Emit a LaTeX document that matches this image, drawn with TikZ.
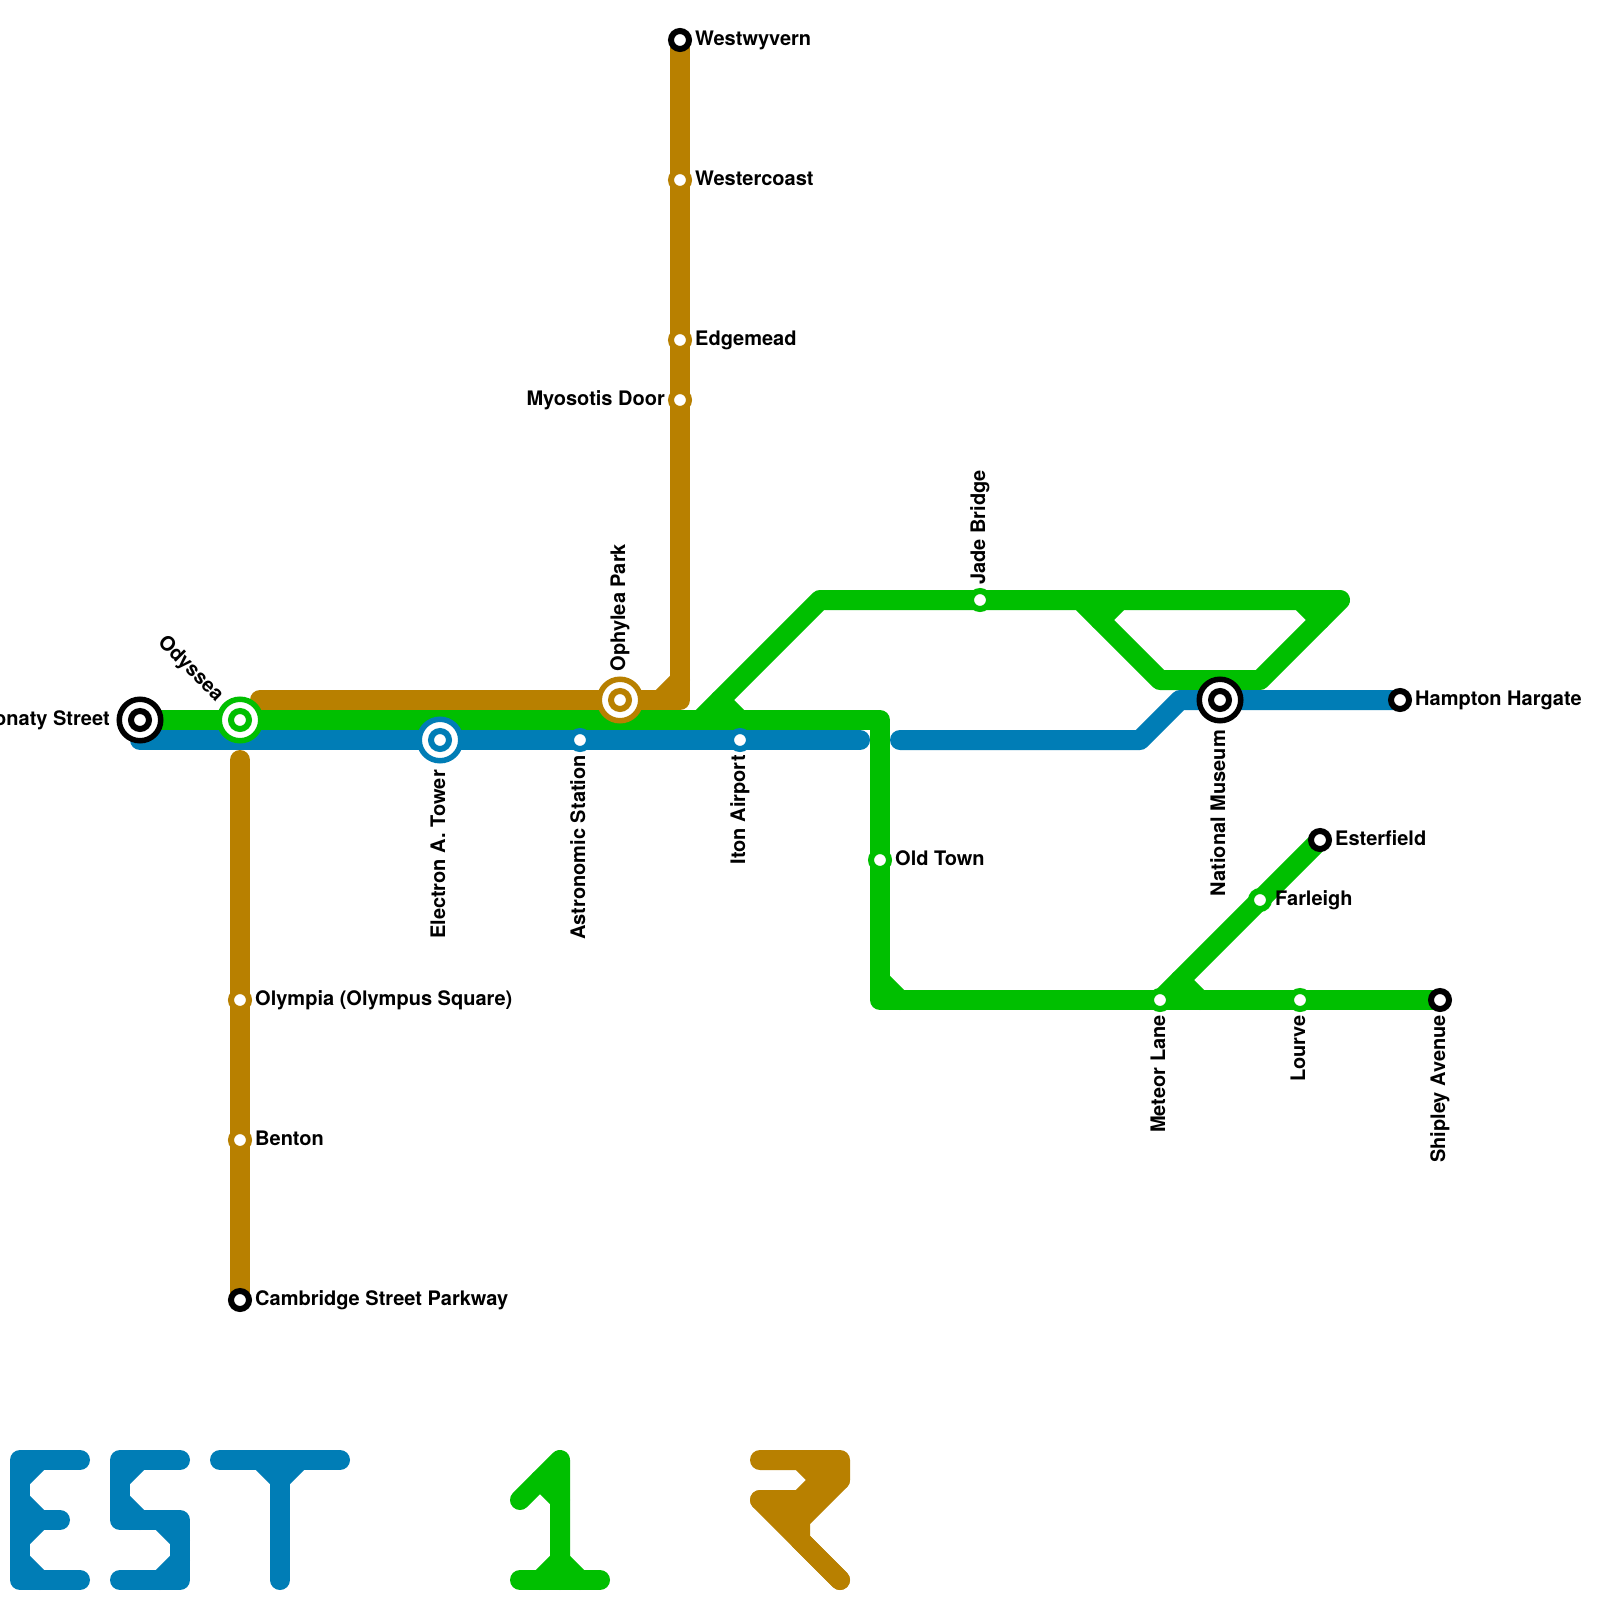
\documentclass[tikz,border=0pt]{standalone}
\usepackage{fontspec}
\setmainfont{TeX Gyre Heros}
\definecolor{lblue}{HTML}{007DB6}
\definecolor{lgreen}{HTML}{00BF00}
\definecolor{lbrown}{HTML}{B88000}
\tikzset{
  ln/.style={line width=20pt,line cap=round,line join=round},
  halt/.style={circle,draw=#1,line width=6pt,fill=white,inner sep=0pt,minimum size=18pt,outer sep=0pt},
  hub/.style={circle,draw=#1,line width=5.5pt,fill=white,inner sep=0pt,minimum size=41.5pt,outer sep=0pt,
    path picture={\draw[#1,line width=6pt] (path picture bounding box.center) circle (9pt);}},
  lab/.style={font=\bfseries\fontsize{20pt}{23pt}\selectfont,inner sep=0pt,text=black},
  labr/.style={lab,anchor=base west},
  labl/.style={lab,anchor=base east},
  labu/.style={lab,rotate=90,anchor=base west},
  labd/.style={lab,rotate=90,anchor=base east},
}
\begin{document}
\begin{tikzpicture}[x=1pt,y=-1pt]
\useasboundingbox (0,0) rectangle (1600,1600);
\fill[white] (0,0) rectangle (1600,1600);
% station points
\coordinate (don) at (140,720);
\coordinate (ody) at (240,720);
\coordinate (ele) at (440,740);
\coordinate (ast) at (580,740);
\coordinate (oph) at (620,700);
\coordinate (ito) at (740,740);
\coordinate (wwy) at (680,40);
\coordinate (wco) at (680,180);
\coordinate (edg) at (680,340);
\coordinate (myo) at (680,400);
\coordinate (oly) at (240,1000);
\coordinate (ben) at (240,1140);
\coordinate (cam) at (240,1300);
\coordinate (old) at (880,860);
\coordinate (jad) at (980,600);
\coordinate (nat) at (1220,700);
\coordinate (ham) at (1400,700);
\coordinate (est) at (1320,840);
\coordinate (far) at (1260,900);
\coordinate (met) at (1160,1000);
\coordinate (lou) at (1300,1000);
\coordinate (shi) at (1440,1000);
% way points
\coordinate (b1) at (260,700);
\coordinate (b2) at (680,700);
\coordinate (b3) at (660,700);
\coordinate (b4) at (680,680);
\coordinate (b5) at (240,760);
\coordinate (g1) at (880,720);
\coordinate (g2) at (880,1000);
\coordinate (g3) at (880,980);
\coordinate (g4) at (900,1000);
\coordinate (g5) at (700,720);
\coordinate (g6) at (820,600);
\coordinate (g7) at (1340,600);
\coordinate (g8) at (1260,680);
\coordinate (g9) at (1160,680);
\coordinate (g10) at (1080,600);
\coordinate (g11) at (720,700);
\coordinate (g12) at (740,720);
\coordinate (g13) at (1100,620);
\coordinate (g14) at (1120,600);
\coordinate (g15) at (1300,600);
\coordinate (g16) at (1320,620);
\coordinate (g17) at (1180,980);
\coordinate (g18) at (1200,1000);
\coordinate (l1) at (140,740);
\coordinate (l2) at (860,740);
\coordinate (l3) at (900,740);
\coordinate (l4) at (1140,740);
\coordinate (l5) at (1180,700);
% lines
\draw[ln,lbrown] (b1) -- (b2) -- (wwy);
\draw[ln,lbrown] (b3) -- (b4);
\draw[ln,lbrown] (b5) -- (cam);
\draw[ln,lgreen] (don) -- (g1) -- (g2) -- (shi);
\draw[ln,lgreen] (g3) -- (g4);
\draw[ln,lgreen] (g5) -- (g6) -- (g7) -- (g8) -- (g9) -- (g10);
\draw[ln,lgreen] (g11) -- (g12);
\draw[ln,lgreen] (g13) -- (g14);
\draw[ln,lgreen] (g15) -- (g16);
\draw[ln,lgreen] (met) -- (est);
\draw[ln,lgreen] (g17) -- (g18);
\draw[ln,lblue] (l1) -- (l2);
\draw[ln,lblue] (l3) -- (l4) -- (l5) -- (ham);
% stations
\node[hub=black] (s-don) at (don) {};
\node[hub=lgreen] (s-ody) at (ody) {};
\node[hub=lblue] (s-ele) at (ele) {};
\node[hub=lbrown] (s-oph) at (oph) {};
\node[hub=black] (s-nat) at (nat) {};
\node[halt=lblue] (s-ast) at (ast) {};
\node[halt=lblue] (s-ito) at (ito) {};
\node[halt=black] (s-wwy) at (wwy) {};
\node[halt=lbrown] (s-wco) at (wco) {};
\node[halt=lbrown] (s-edg) at (edg) {};
\node[halt=lbrown] (s-myo) at (myo) {};
\node[halt=lbrown] (s-oly) at (oly) {};
\node[halt=lbrown] (s-ben) at (ben) {};
\node[halt=black] (s-cam) at (cam) {};
\node[halt=lgreen] (s-old) at (old) {};
\node[halt=lgreen] (s-jad) at (jad) {};
\node[halt=black] (s-ham) at (ham) {};
\node[halt=black] (s-est) at (est) {};
\node[halt=lgreen] (s-far) at (far) {};
\node[halt=lgreen] (s-met) at (met) {};
\node[halt=lgreen] (s-lou) at (lou) {};
\node[halt=black] (s-shi) at (shi) {};
% labels
\node[labr] (t-wwy) at (695,46) {Westwyvern};
\node[labr] (t-wco) at (695,185) {Westercoast};
\node[labr] (t-edg) at (695,345) {Edgemead};
\node[labl] (t-myo) at (665,405) {Myosotis Door};
\node[labr] (t-oly) at (255,1005) {Olympia (Olympus Square)};
\node[labr] (t-ben) at (255,1145) {Benton};
\node[labr] (t-cam) at (255,1305) {Cambridge Street Parkway};
\node[labr] (t-old) at (895,865) {Old Town};
\node[labr] (t-ham) at (1415,705) {Hampton Hargate};
\node[labr] (t-est) at (1335,845) {Esterfield};
\node[labr] (t-far) at (1275,905) {Farleigh};
\node[labl] (t-don) at (110,725) {Donaty Street};
\node[lab,rotate=-45,anchor=base east] (t-ody) at (216,702) {Odyssea};
\node[labu] (t-oph) at (625,671.5) {Ophylea Park};
\node[labu] (t-jad) at (985,585) {Jade Bridge};
\node[labd] (t-ele) at (445,770) {Electron A. Tower};
\node[labd] (t-ast) at (585,755) {Astronomic Station};
\node[labd] (t-ito) at (745,755) {Iton Airport};
\node[labd] (t-nat) at (1225,730) {National Museum};
\node[labd] (t-met) at (1165,1015) {Meteor Lane};
\node[labd] (t-lou) at (1305,1015) {Lourve};
\node[labd] (t-shi) at (1445,1015) {Shipley Avenue};
% route letters E S T
\draw[ln,lblue] (80,1460) -- (20,1460) -- (20,1580) -- (80,1580);
\draw[ln,lblue] (20,1520) -- (60,1520);
\draw[ln,lblue] (20,1480) -- (40,1460);
\draw[ln,lblue] (20,1500) -- (40,1520) -- (20,1540);
\draw[ln,lblue] (20,1560) -- (40,1580);
\draw[ln,lblue] (180,1460) -- (120,1460) -- (120,1520) -- (180,1520) -- (180,1580) -- (120,1580);
\draw[ln,lblue] (120,1480) -- (140,1460);
\draw[ln,lblue] (120,1500) -- (140,1520);
\draw[ln,lblue] (160,1520) -- (180,1540);
\draw[ln,lblue] (160,1580) -- (180,1560);
\draw[ln,lblue] (220,1460) -- (340,1460);
\draw[ln,lblue] (280,1460) -- (280,1580);
\draw[ln,lblue] (260,1460) -- (280,1480) -- (300,1460);
% route number 1
\draw[ln,lgreen] (520,1500) -- (560,1460) -- (560,1580);
\draw[ln,lgreen] (520,1580) -- (600,1580);
\draw[ln,lgreen] (540,1480) -- (560,1500);
\draw[ln,lgreen] (540,1580) -- (560,1560) -- (580,1580);
% rupee sign
\fill[lbrown] (770,1500) -- (800,1500) -- (800,1530) -- cycle;
\draw[ln,lbrown] (760,1460) -- (840,1460) -- (840,1480) -- (800,1520) -- (800,1540) -- (840,1580);
\draw[ln,lbrown] (760,1500) -- (800,1500) -- (820,1480) -- (800,1460);
\draw[ln,lbrown] (760,1500) -- (840,1580);
\draw[ln,lbrown] (800,1500) -- (800,1540);
\draw[ln,lbrown] (820,1480) -- (840,1480);
\end{tikzpicture}
\end{document}
